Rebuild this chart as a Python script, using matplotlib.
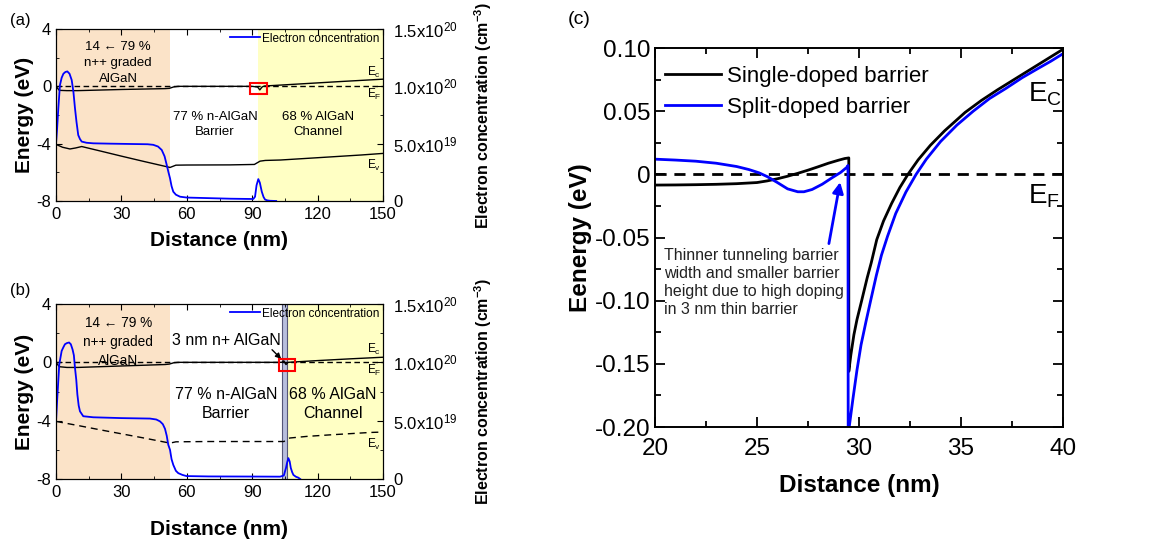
import numpy as np
import matplotlib
matplotlib.use('Agg')
import matplotlib.pyplot as plt
from matplotlib.patches import Rectangle
from matplotlib.ticker import MultipleLocator, FixedLocator, FixedFormatter

plt.rcParams['font.family'] = ['Liberation Sans', 'DejaVu Sans']
plt.rcParams['mathtext.default'] = 'regular'

# ---- panel (a): single-doped barrier ----
ec_a_x = [0, 1.5, 5, 10, 20, 30, 40, 50, 52, 54, 56, 70, 90, 92.5, 93.5, 94.5, 95.5, 110, 130, 150]
ec_a_y = [0.0, -0.28, -0.3, -0.3, -0.26, -0.22, -0.19, -0.16, -0.14, -0.04, 0.0, 0.0, 0.0, -0.05, -0.25, -0.05,
          0.02, 0.15, 0.33, 0.5]
ev_a_x = [0, 3, 6.4, 9, 11.8, 20, 30, 40, 52.3, 55, 60, 80, 91, 93.6, 96, 103, 120, 140, 150]
ev_a_y = [-4.05, -4.25, -4.37, -4.3, -4.2, -4.5, -4.87, -5.23, -5.66, -5.5, -5.49, -5.48, -5.45, -5.22, -5.17,
          -5.14, -4.98, -4.79, -4.68]
n_a_x = [0, 0.5, 1.07, 1.8, 2.6, 3.4, 4.3, 5.2, 6.2, 7.2, 8.0, 8.7, 9.4, 10.2, 11.0, 11.8, 14, 17.1, 25, 35, 42,
         44.6, 46.8, 48.5, 49.8, 50.8, 51.6, 52.3, 53.0, 53.8, 55, 56.9, 60, 70, 80, 88, 90.5, 91.3, 92.0, 92.8,
         93.5, 94.4, 95.2, 95.9, 97, 98.2, 101]
n_a = np.array([5.0, 6.3, 8.1, 10.1, 10.75, 11.1, 11.25, 11.3, 11.1, 10.55, 9.5, 8.1, 6.9, 5.75, 5.4, 5.18, 5.08,
                5.03, 5.0, 4.97, 4.95, 4.9, 4.75, 4.45, 3.9, 3.14, 2.5, 1.98, 1.3, 0.81, 0.55, 0.375, 0.3, 0.25,
                0.2, 0.18, 0.175, 0.375, 1.375, 1.91, 1.6, 0.81, 0.35, 0.125, 0.05, 0.02, 0.0]) * 1e19

# ---- panel (b): split-doped barrier ----
ec_b_x = [0, 1.5, 5, 10, 20, 30, 40, 50, 52, 54, 56, 80, 103.5, 104.5, 105.5, 106.5, 120, 135, 150]
ec_b_y = [0.0, -0.3, -0.35, -0.35, -0.3, -0.25, -0.2, -0.15, -0.12, -0.03, 0.0, 0.0, 0.0, 0.1, -0.15, 0.0, 0.12,
          0.24, 0.35]
ev_b_x = [0, 10, 20, 30, 40, 52.3, 55, 70, 90, 104.5, 105.5, 107.2, 115, 125, 135, 144, 150]
ev_b_y = [-4.05, -4.33, -4.62, -4.9, -5.18, -5.54, -5.45, -5.43, -5.43, -5.43, -5.35, -5.19, -5.08, -4.98,
          -4.89, -4.81, -4.78]
n_b_x = [0, 0.6, 1.5, 2.6, 3.4, 4.1, 5.0, 6.0, 6.8, 7.6, 8.2, 8.7, 9.3, 9.8, 10.4, 11.0, 12.5, 17.1, 30, 43.1,
         46, 47.7, 49, 50.0, 50.8, 51.5, 52.3, 53.0, 53.8, 55, 56.1, 58, 59.9, 70, 90, 102.8, 104.5, 105.5, 106.0,
         106.6, 107.2, 107.7, 108.3, 108.9, 110, 111.2, 112]
n_b = np.array([4.94, 7.0, 9.83, 10.98, 11.3, 11.55, 11.65, 11.7, 11.55, 11.1, 10.6, 9.54, 8.5, 7.25, 6.3, 5.8,
                5.38, 5.29, 5.22, 5.18, 5.1, 4.94, 4.7, 4.3, 3.7, 2.93, 2.5, 1.7, 1.21, 0.7, 0.5, 0.35, 0.25,
                0.22, 0.21, 0.2, 0.3, 0.95, 1.4, 1.79, 1.5, 0.95, 0.6, 0.35, 0.2, 0.11, 0.0]) * 1e19

ef_x = [0, 150]
ef_y = [0, 0]

# ---- panel (c): zoom of conduction band ----
single_x = [20, 21, 22, 23, 24, 25, 25.5, 26, 26.5, 27, 27.5, 28, 28.5, 29, 29.3, 29.5, 29.5, 29.6, 29.75, 29.9,
            30.13, 30.4, 30.6, 30.87, 31.2, 31.6, 32.0, 32.4, 32.9, 33.5, 34.2, 35.2, 36.0, 36.8, 37.6, 38.4,
            39.2, 40.0]
single_y = [-0.0085, -0.0084, -0.0082, -0.0079, -0.0074, -0.0065, -0.0052, -0.0035, -0.0015, 0.0008, 0.0033,
            0.0060, 0.0088, 0.0112, 0.0125, 0.0130, -0.156, -0.143, -0.127, -0.115, -0.100, -0.082, -0.070,
            -0.0517, -0.037, -0.023, -0.0105, 0.0, 0.0115, 0.023, 0.0345, 0.049, 0.0585, 0.067, 0.075, 0.083,
            0.091, 0.099]
split_x = [20, 21, 22, 23, 24, 24.6, 25.1, 25.5, 26.0, 26.5, 27.0, 27.3, 27.7, 28.2, 28.7, 29.1, 29.4, 29.46,
           29.47, 29.52, 29.7, 29.9, 30.1, 30.35, 30.57, 30.85, 31.1, 31.4, 31.8, 32.3, 32.8, 33.3, 34.0, 34.8,
           35.6, 36.4, 37.2, 38.0, 38.8, 39.4, 40.0]
split_y = [0.012, 0.0113, 0.0104, 0.0088, 0.0062, 0.0038, 0.0012, -0.0018, -0.0065, -0.0115, -0.0138, -0.0138,
           -0.0120, -0.0078, -0.0025, 0.0015, 0.0055, 0.0070, -0.205, -0.200, -0.178, -0.155, -0.135, -0.116,
           -0.100, -0.080, -0.064, -0.049, -0.031, -0.014, 0.0, 0.012, 0.026, 0.039, 0.050, 0.060, 0.068, 0.0765,
           0.084, 0.0895, 0.0955]

fig = plt.figure(figsize=(11.49, 5.41), dpi=100)
W, H = 1149, 541

orange = '#FBE3C8'
yellow = '#FFFFC4'


def band_panel(box, ec_x, ec_y, ev_x, ev_y, n_x, n, ev_style, chan_start, redbox, xpad):
    ax = fig.add_axes(box)
    ax.axvspan(0, 52.5, color=orange, lw=0, zorder=0)
    ax.axvspan(chan_start, 150, color=yellow, lw=0, zorder=0)
    ax.plot(ef_x, ef_y, color='black', lw=1.0, ls=(0, (4, 2.5)))
    ax.plot(ec_x, ec_y, color='black', lw=1.0)
    ax.plot(ev_x, ev_y, color='black', lw=1.0, ls=ev_style)
    ax.add_patch(Rectangle(redbox[0], redbox[1], redbox[2], fill=False, ec='red', lw=1.5, zorder=5))
    ax.set_xlim(0, 150)
    ax.set_ylim(-8, 4)
    ax.set_xticks([0, 30, 60, 90, 120, 150])
    ax.xaxis.set_minor_locator(MultipleLocator(15))
    ax.set_yticks([-8, -4, 0, 4])
    ax.set_yticklabels(['-8', '-4', '0', '4'])
    ax.yaxis.set_minor_locator(MultipleLocator(2))
    ax.tick_params(which='both', direction='in', top=True, right=False, labelsize=12)
    ax.tick_params(which='major', length=4)
    ax.tick_params(which='minor', length=2.5)
    ax.tick_params(axis='x', which='major', pad=4.5)
    ax.set_xlabel('Distance (nm)', fontsize=15, fontweight='bold', labelpad=xpad)
    ax.set_ylabel('Energy (eV)', fontsize=15, fontweight='bold', labelpad=2)

    ax2 = ax.twinx()
    ax2.plot(n_x, n, color='blue', lw=1.3, label='Electron concentration')
    ax2.set_ylim(0, 1.5e20)
    ax2.yaxis.set_major_locator(FixedLocator([0, 5e19, 1e20, 1.5e20]))
    ax2.yaxis.set_major_formatter(FixedFormatter(['0', '$5.0x10^{19}$', '$1.0x10^{20}$', '$1.5x10^{20}$']))
    ax2.yaxis.set_minor_locator(MultipleLocator(2.5e19))
    ax2.tick_params(which='both', direction='in', labelsize=12)
    ax2.tick_params(which='major', length=4, pad=7.5)
    ax2.tick_params(which='minor', length=2.5)
    ax2.set_ylabel('Electron concentration (cm$^{-3}$)', fontsize=11.5, fontweight='bold', labelpad=10)
    ax2.legend(loc='upper right', frameon=False, fontsize=8.5, handlelength=2.5, handletextpad=0.2,
               borderaxespad=0.1, borderpad=0.2)

    ax.text(146, ec_y[-1] + 0.5, '$E_c$', fontsize=8.5, ha='center', va='center')
    ax.text(146, -0.55, '$E_F$', fontsize=8.5, ha='center', va='center')
    ax.text(146, ev_y[-1] - 0.85, '$E_v$', fontsize=8.5, ha='center', va='center')
    return ax


# (a)
axa = band_panel([56 / W, 1 - 201 / H, 327 / W, 172 / H], ec_a_x, ec_a_y, ev_a_x, ev_a_y, n_a_x, n_a,
                 '-', 92.8, ((88.8, -0.55), 7.8, 0.8), 6)
axa.text(28.5, 1.6, '14 \u2190 79 %\nn++ graded\nAlGaN', fontsize=9.5, ha='center', va='center',
         linespacing=1.45)
axa.text(73, -2.65, '77 % n-AlGaN\nBarrier', fontsize=9.5, ha='center', va='center', linespacing=1.35)
axa.text(120, -2.65, '68 % AlGaN\nChannel', fontsize=9.5, ha='center', va='center', linespacing=1.35)
fig.text(10 / W, 1 - 20 / H, '(a)', fontsize=12, va='center')

# (b)
axb = band_panel([56 / W, 1 - 479 / H, 327 / W, 175 / H], ec_b_x, ec_b_y, ev_b_x, ev_b_y, n_b_x, n_b,
                 (0, (5, 3.5)), 105.8, ((102.3, -0.6), 7.3, 0.85), 14)
axb.axvspan(103.7, 105.8, color='#B8BEDD', ec='#555577', lw=0.8, zorder=1)
axb.text(28.5, 1.4, '14 \u2190 79 %\nn++ graded\nAlGaN', fontsize=9.8, ha='center', va='center',
         linespacing=1.45)
axb.text(78, 1.5, '3 nm n+ AlGaN', fontsize=11.5, ha='center', va='center')
axb.annotate('', xy=(104.2, 0.1), xytext=(98.2, 1.0),
             arrowprops=dict(arrowstyle='-|>', color='black', lw=1.0, mutation_scale=8))
axb.text(78, -2.85, '77 % n-AlGaN\nBarrier', fontsize=11.5, ha='center', va='center', linespacing=1.3)
axb.text(127, -2.85, '68 % AlGaN\nChannel', fontsize=11.5, ha='center', va='center', linespacing=1.3)
fig.text(10 / W, 1 - 290 / H, '(b)', fontsize=12, va='center')

# (c)
axc = fig.add_axes([655 / W, 1 - 427 / H, 408 / W, 379 / H])
axc.plot([20, 40], [0, 0], color='black', lw=2.0, ls=(0, (4, 2.8)))
axc.plot(single_x, single_y, color='black', lw=2.0, label='Single-doped barrier')
axc.plot(split_x, split_y, color='blue', lw=2.0, label='Split-doped barrier')
axc.set_xlim(20, 40)
axc.set_ylim(-0.20, 0.10)
axc.set_xticks([20, 25, 30, 35, 40])
axc.xaxis.set_minor_locator(MultipleLocator(2.5))
axc.set_yticks([-0.20, -0.15, -0.10, -0.05, 0, 0.05, 0.10])
axc.set_yticklabels(['-0.20', '-0.15', '-0.10', '-0.05', '0', '0.05', '0.10'])
axc.yaxis.set_minor_locator(MultipleLocator(0.025))
axc.tick_params(which='both', direction='in', top=True, right=True, labelsize=17.5, width=1.3)
axc.tick_params(which='major', length=7)
axc.tick_params(which='minor', length=4)
axc.tick_params(axis='x', which='major', pad=8)
for s in axc.spines.values():
    s.set_linewidth(1.4)
axc.set_xlabel('Distance (nm)', fontsize=17.5, fontweight='bold', labelpad=10)
axc.set_ylabel('Eenergy (eV)', fontsize=17.5, fontweight='bold', labelpad=2)
axc.legend(loc='upper left', bbox_to_anchor=(0, 0.979), frameon=False, fontsize=16, handlelength=2.5,
           handletextpad=0.3, labelspacing=0.45, borderaxespad=0.15, borderpad=0.3)
axc.annotate('', xy=(29.1, -0.004), xytext=(28.5, -0.057),
             arrowprops=dict(arrowstyle='-|>', color='blue', lw=2.0, mutation_scale=16))
axc.text(20.45, -0.0585, 'Thinner tunneling barrier\nwidth and smaller barrier\nheight due to high doping\n'
         'in 3 nm thin barrier', fontsize=11.5, ha='left', va='top', linespacing=1.25, color='#222222')
axc.text(38.3, 0.063, '$E_C$', fontsize=20, ha='left', va='center')
axc.text(38.3, -0.017, '$E_F$', fontsize=20, ha='left', va='center')
fig.text(568 / W, 1 - 20 / H, '(c)', fontsize=14, va='center')

fig.savefig('out.png', dpi=100)
